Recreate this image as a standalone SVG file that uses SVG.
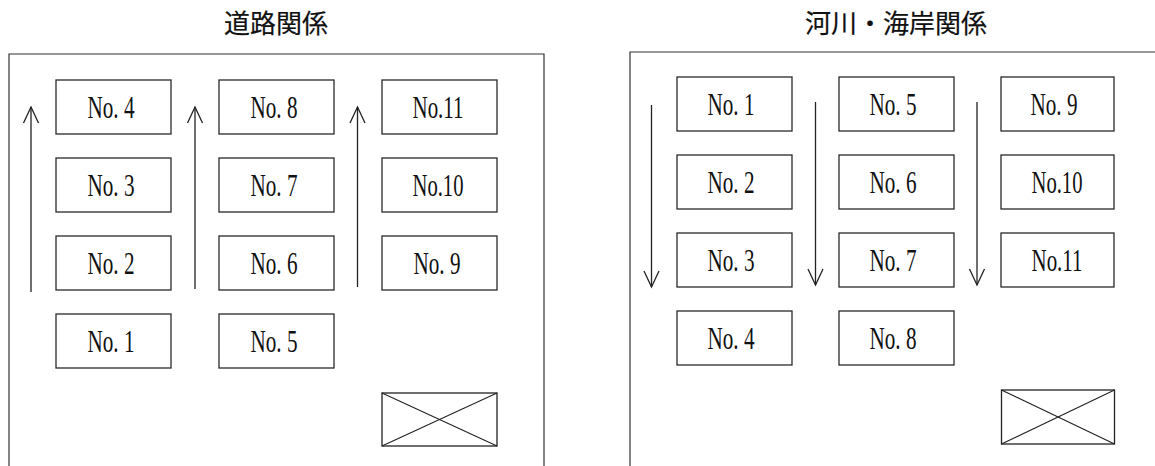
<svg xmlns="http://www.w3.org/2000/svg" width="1155" height="466" viewBox="0 0 1155 466">
  <style>
    .frame { fill: none; stroke: #333; stroke-width: 1.2; }
    .box rect { fill: #fff; stroke: #2a2a2a; stroke-width: 1.3; }
    .lbl { font-family: "Liberation Serif", "DejaVu Serif", serif; font-size: 32px; fill: #111; text-anchor: middle; }
    .title { font-family: "Noto Sans CJK JP", "Noto Sans CJK SC", sans-serif; font-size: 26px; font-weight: 400; fill: #111; stroke: #111; stroke-width: 0.2; text-anchor: middle; }
    .flow line { stroke: #222; stroke-width: 1.3; }
    .xbox { fill: #fff; stroke: #222; stroke-width: 1.3; }
    .xbox-line { stroke: #222; stroke-width: 1.1; }
  </style>
  <defs>
    <marker id="open-arrow" markerUnits="userSpaceOnUse" viewBox="0 0 16 16" markerWidth="16" markerHeight="16" refX="16" refY="8" orient="auto" overflow="visible">
      <path d="M0,0.5 L16,8 L0,15.5" fill="none" stroke="#222" stroke-width="1.3"/>
    </marker>
  </defs>
  <rect width="1155" height="466" fill="#fff"/>

  <!-- Road panel -->
  <g id="road-panel">
    <text class="title" x="276" y="33">道路関係</text>
    <path class="frame" d="M9,466 V54 H544 V466"/>
    <g id="road-no4" class="box"><rect x="56" y="80" width="115" height="54"/><text class="lbl" x="111" y="117.5" textLength="47" lengthAdjust="spacingAndGlyphs">No. 4</text></g>
    <g id="road-no3" class="box"><rect x="56" y="158" width="115" height="54"/><text class="lbl" x="111" y="195.5" textLength="47" lengthAdjust="spacingAndGlyphs">No. 3</text></g>
    <g id="road-no2" class="box"><rect x="56" y="236" width="115" height="54"/><text class="lbl" x="111" y="273.5" textLength="47" lengthAdjust="spacingAndGlyphs">No. 2</text></g>
    <g id="road-no1" class="box"><rect x="56" y="314" width="115" height="54"/><text class="lbl" x="111" y="351.5" textLength="47" lengthAdjust="spacingAndGlyphs">No. 1</text></g>
    <g id="road-no8" class="box"><rect x="219" y="80" width="115" height="54"/><text class="lbl" x="274" y="117.5" textLength="47" lengthAdjust="spacingAndGlyphs">No. 8</text></g>
    <g id="road-no7" class="box"><rect x="219" y="158" width="115" height="54"/><text class="lbl" x="274" y="195.5" textLength="47" lengthAdjust="spacingAndGlyphs">No. 7</text></g>
    <g id="road-no6" class="box"><rect x="219" y="236" width="115" height="54"/><text class="lbl" x="274" y="273.5" textLength="47" lengthAdjust="spacingAndGlyphs">No. 6</text></g>
    <g id="road-no5" class="box"><rect x="219" y="314" width="115" height="54"/><text class="lbl" x="274" y="351.5" textLength="47" lengthAdjust="spacingAndGlyphs">No. 5</text></g>
    <g id="road-no11" class="box"><rect x="382" y="80" width="115" height="54"/><text class="lbl" x="438" y="117.5" textLength="51" lengthAdjust="spacingAndGlyphs">No.11</text></g>
    <g id="road-no10" class="box"><rect x="382" y="158" width="115" height="54"/><text class="lbl" x="438" y="195.5" textLength="51" lengthAdjust="spacingAndGlyphs">No.10</text></g>
    <g id="road-no9" class="box"><rect x="382" y="236" width="115" height="54"/><text class="lbl" x="437" y="273.5" textLength="47" lengthAdjust="spacingAndGlyphs">No. 9</text></g>
    <g id="road-xbox">
      <rect class="xbox" x="382" y="393" width="115" height="53"/>
      <line class="xbox-line" x1="382" y1="393" x2="497" y2="446"/>
      <line class="xbox-line" x1="382" y1="446" x2="497" y2="393"/>
    </g>
  </g>

  <!-- River / coast panel -->
  <g id="river-panel">
    <text class="title" x="896" y="33">河川・海岸関係</text>
    <path class="frame" d="M630,466 V52 H1155"/>
    <g id="river-no1" class="box"><rect x="677" y="77" width="115" height="54"/><text class="lbl" x="731" y="114.5" textLength="47" lengthAdjust="spacingAndGlyphs">No. 1</text></g>
    <g id="river-no2" class="box"><rect x="677" y="155" width="115" height="54"/><text class="lbl" x="731" y="192.5" textLength="47" lengthAdjust="spacingAndGlyphs">No. 2</text></g>
    <g id="river-no3" class="box"><rect x="677" y="233" width="115" height="54"/><text class="lbl" x="731" y="270.5" textLength="47" lengthAdjust="spacingAndGlyphs">No. 3</text></g>
    <g id="river-no4" class="box"><rect x="677" y="311" width="115" height="54"/><text class="lbl" x="731" y="348.5" textLength="47" lengthAdjust="spacingAndGlyphs">No. 4</text></g>
    <g id="river-no5" class="box"><rect x="839" y="77" width="115" height="54"/><text class="lbl" x="893" y="114.5" textLength="47" lengthAdjust="spacingAndGlyphs">No. 5</text></g>
    <g id="river-no6" class="box"><rect x="839" y="155" width="115" height="54"/><text class="lbl" x="893" y="192.5" textLength="47" lengthAdjust="spacingAndGlyphs">No. 6</text></g>
    <g id="river-no7" class="box"><rect x="839" y="233" width="115" height="54"/><text class="lbl" x="893" y="270.5" textLength="47" lengthAdjust="spacingAndGlyphs">No. 7</text></g>
    <g id="river-no8" class="box"><rect x="839" y="311" width="115" height="54"/><text class="lbl" x="893" y="348.5" textLength="47" lengthAdjust="spacingAndGlyphs">No. 8</text></g>
    <g id="river-no9" class="box"><rect x="1001" y="77" width="113" height="54"/><text class="lbl" x="1054" y="114.5" textLength="47" lengthAdjust="spacingAndGlyphs">No. 9</text></g>
    <g id="river-no10" class="box"><rect x="1001" y="155" width="113" height="54"/><text class="lbl" x="1057" y="192.5" textLength="51" lengthAdjust="spacingAndGlyphs">No.10</text></g>
    <g id="river-no11" class="box"><rect x="1001" y="233" width="113" height="54"/><text class="lbl" x="1057" y="270.5" textLength="51" lengthAdjust="spacingAndGlyphs">No.11</text></g>
    <g id="river-xbox">
      <rect class="xbox" x="1001.5" y="390" width="113" height="54"/>
      <line class="xbox-line" x1="1001.5" y1="390" x2="1114.5" y2="444"/>
      <line class="xbox-line" x1="1001.5" y1="444" x2="1114.5" y2="390"/>
    </g>
  </g>

  <!-- Ordering arrows -->
  <g id="connectors" class="flow">
    <line x1="31" y1="292" x2="31" y2="107" marker-end="url(#open-arrow)"/>
    <line x1="195" y1="289" x2="195" y2="107" marker-end="url(#open-arrow)"/>
    <line x1="357.5" y1="287" x2="357.5" y2="107" marker-end="url(#open-arrow)"/>
    <line x1="651.5" y1="105" x2="651.5" y2="287" marker-end="url(#open-arrow)"/>
    <line x1="815.5" y1="102" x2="815.5" y2="285" marker-end="url(#open-arrow)"/>
    <line x1="977" y1="102" x2="977" y2="285" marker-end="url(#open-arrow)"/>
  </g>
</svg>
